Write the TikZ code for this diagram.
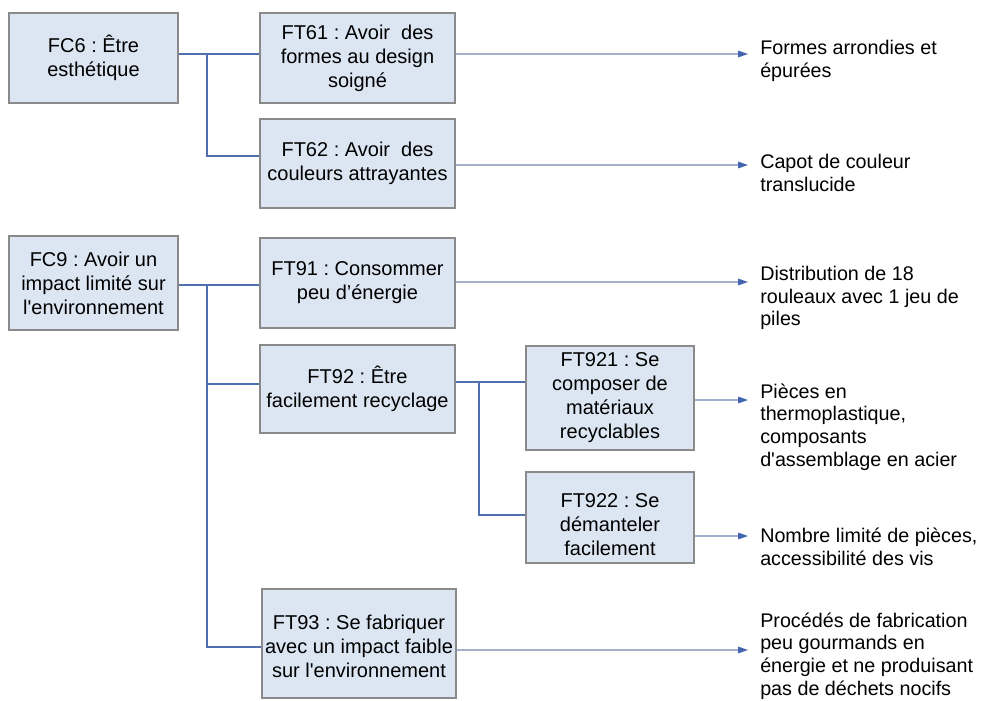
\documentclass[tikz,border=0pt]{standalone}
\usepackage{fontspec}
\setmainfont{Liberation Sans}
\usetikzlibrary{arrows.meta}
\frenchspacing
\definecolor{boxfill}{HTML}{DCE6F2}
\definecolor{boxline}{HTML}{8A8A8A}
\definecolor{connblue}{HTML}{4F6FAE}
\definecolor{arrline}{HTML}{A3AFCB}
\definecolor{tipblue}{HTML}{4466B0}
\begin{document}
\begin{tikzpicture}[x=0.75pt,y=-0.75pt,
  fbox/.style={draw=boxline, line width=1.1pt, fill=boxfill, align=center, inner sep=0pt, font=\fontsize{15}{18}\selectfont},
  btext/.style={align=center, inner sep=0pt, font=\fontsize{15}{18}\selectfont},
  conn/.style={draw=connblue, line width=1.6pt},
  outarrow/.style={draw=arrline, line width=0.8pt, -{Triangle[length=7.5pt,width=5pt,color=tipblue]}},
  outtext/.style={anchor=west, align=left, inner sep=0pt, font=\fontsize{14.8}{17}\selectfont}]
\useasboundingbox[fill=white] (0,0) rectangle (982,700);

% boxes
\node[fbox, minimum width=126.75pt, minimum height=67.5pt] (fc6) at (93.5,58) {FC6 : Être\\esthétique};
\node[fbox, minimum width=146.25pt, minimum height=67.5pt] (ft61) at (357.5,58) {FT61 : Avoir~ des\\formes au design\\soigné};
\node[fbox, minimum width=146.25pt, minimum height=66.75pt] (ft62) at (357.5,163.5) {FT62 : Avoir~ des\\couleurs attrayantes};
\node[fbox, minimum width=126.75pt, minimum height=70.5pt] (fc9) at (93.5,283) {FC9 : Avoir un\\impact limité sur\\l\textquotesingle environnement};
\node[fbox, minimum width=146.25pt, minimum height=67.5pt] (ft91) at (357.5,283) {FT91 : Consommer\\peu d’énergie};
\node[fbox, minimum width=146.25pt, minimum height=66pt] (ft92) at (357.5,389) {FT92 : Être\\facilement recyclage};
\node[fbox, minimum width=126pt, minimum height=78pt] (ft921) at (610,398) {FT921 : Se\\composer de\\matériaux\\recyclables};
\node[fbox, minimum width=126pt, minimum height=68.25pt] (ft922) at (610,517.5) {};
\node[btext] (ft922t) at ([yshift=-5pt]ft922.center) {FT922 : Se\\démanteler\\facilement};
\node[fbox, minimum width=145.5pt, minimum height=81.75pt] (ft93) at (359,643.5) {};
\node[btext] (ft93t) at ([yshift=-2.5pt]ft93.center) {FT93 : Se fabriquer\\avec un impact faible\\sur l\textquotesingle environnement};

% tree connectors
\coordinate (j6) at (207,54);
\coordinate (j62) at (207,156);
\draw[conn] (fc6.east |- j6) -- (ft61.west |- j6);
\draw[conn] (j6) -- (j62) -- (ft62.west |- j62);

\coordinate (j9) at (207,285);
\coordinate (j92) at (207,384);
\coordinate (j93) at (207,647);
\draw[conn] (fc9.east |- j9) -- (ft91.west |- j9);
\draw[conn] (j9) -- (j93) -- (ft93.west |- j93);
\draw[conn] (j92) -- (ft92.west |- j92);

\coordinate (k1) at (479,382);
\coordinate (k2) at (479,515);
\draw[conn] (ft92.east |- k1) -- (ft921.west |- k1);
\draw[conn] (k1) -- (k2) -- (ft922.west |- k2);

% output arrows
\coordinate (t61) at (748,54);
\coordinate (t62) at (748,165);
\coordinate (t91) at (748,282);
\coordinate (t921) at (748,400);
\coordinate (t922) at (748,536);
\coordinate (t93) at (748,650);
\draw[outarrow] (ft61.east |- t61) -- (t61);
\draw[outarrow] (ft62.east |- t62) -- (t62);
\draw[outarrow] (ft91.east |- t91) -- (t91);
\draw[outarrow] (ft921.east |- t921) -- (t921);
\draw[outarrow] (ft922.east |- t922) -- (t922);
\draw[outarrow] (ft93.east |- t93) -- (t93);

% output texts
\node[outtext] (o61) at (760,61) {Formes arrondies et\\épurées};
\node[outtext] (o62) at (760,173) {Capot de couleur\\translucide};
\node[outtext] (o91) at (760,298) {Distribution de 18\\rouleaux avec 1 jeu de\\piles};
\node[outtext] (o921) at (760,427) {Pièces en\\thermoplastique,\\composants\\d\textquotesingle assemblage en acier};
\node[outtext] (o922) at (760,547) {Nombre limité de pièces,\\accessibilité des vis};
\node[outtext] (o93) at (760,656) {Procédés de fabrication\\peu gourmands en\\énergie et ne produisant\\pas de déchets nocifs};
\end{tikzpicture}
\end{document}
